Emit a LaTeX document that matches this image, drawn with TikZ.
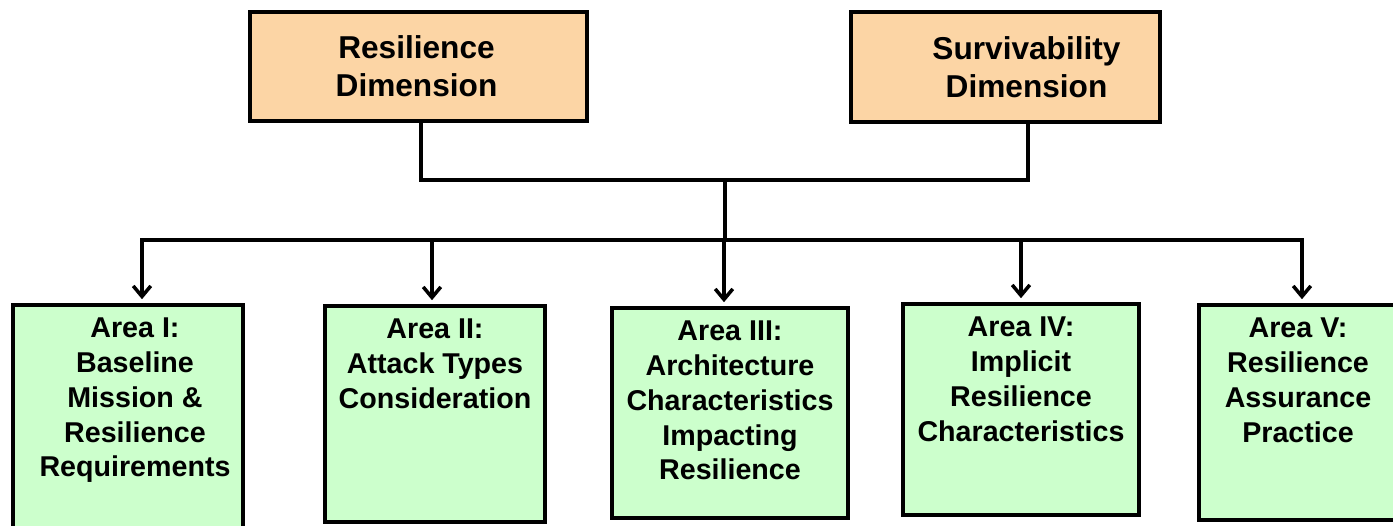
\documentclass[tikz,border=0pt]{standalone}
\usepackage{fontspec}
\setmainfont{Liberation Sans}
\usetikzlibrary{arrows.meta}
\definecolor{dimfill}{RGB}{252,213,165}
\definecolor{areafill}{RGB}{204,255,204}

\begin{document}
\begin{tikzpicture}[x=0.02cm,y=-0.02cm,
    dimbox/.style={draw,line width=2.6pt,fill=dimfill},
    dimtext/.style={align=center,inner sep=0pt,
      font=\bfseries\fontsize{18}{21.5}\selectfont},
    areabox/.style={draw,line width=2.6pt,fill=areafill},
    areatext/.style={anchor=north,align=center,inner sep=0pt,
      font=\bfseries\fontsize{16.3}{19.8}\selectfont},
    link/.style={line width=2pt},
    arr/.style={link,-{Straight Barb[length=6pt,width=10pt]},shorten >=2pt}]
      \useasboundingbox (0,0) rectangle (1393,526);

      \node [dimbox,minimum width=6.74cm,minimum height=2.18cm] (res) at (418.5,66.5) {};
      \node [dimbox,minimum width=6.18cm,minimum height=2.2cm] (surv) at (1005.5,67) {};
      \node [dimtext] (rest) at ([xshift=-0.04cm]res.center) {Resilience\\Dimension};
      \node [dimtext] (survt) at ([xshift=0.42cm]surv.center) {Survivability\\Dimension};

      \node [areabox,minimum width=4.6cm,minimum height=4.7cm] (a1) at (128,422.5) {};
      \node [areabox,minimum width=4.4cm,minimum height=4.32cm] (a2) at (435,414) {};
      \node [areabox,minimum width=4.72cm,minimum height=4.2cm] (a3) at (730,413) {};
      \node [areabox,minimum width=4.72cm,minimum height=4.22cm] (a4) at (1021,409.5) {};
      \node [areabox,minimum width=3.96cm,minimum height=4.3cm] (a5) at (1298,412.5) {};

      \node [areatext] (a1t) at ([xshift=0.14cm,yshift=-0.3cm]a1.north)
        {Area I:\\Baseline\\Mission \&\\Resilience\\Requirements};
      \node [areatext] (a2t) at ([yshift=-0.3cm]a2.north)
        {Area II:\\Attack Types\\Consideration};
      \node [areatext] (a3t) at ([yshift=-0.3cm]a3.north)
        {Area III:\\Architecture\\Characteristics\\Impacting\\Resilience};
      \node [areatext] (a4t) at ([yshift=-0.3cm]a4.north)
        {Area IV:\\Implicit\\Resilience\\Characteristics};
      \node [areatext] (a5t) at ([yshift=-0.3cm]a5.north)
        {Area V:\\Resilience\\Assurance\\Practice};

      \coordinate (join) at (725,180);
      \coordinate (bus) at (725,240);

      \draw [link] ([xshift=0.05cm]res.south) |- (join) -| ([xshift=0.45cm]surv.south);
      \draw [link] (join) -- (bus);

      \draw [arr] (bus) -| ([xshift=0.28cm]a1.north);
      \draw [arr] (bus) -| ([xshift=-0.06cm]a2.north);
      \draw [arr] (bus) -| ([xshift=-0.12cm]a3.north);
      \draw [arr] (bus) -| (a4.north);
      \draw [arr] (bus) -| ([xshift=0.08cm]a5.north);
  \end{tikzpicture}
\end{document}
